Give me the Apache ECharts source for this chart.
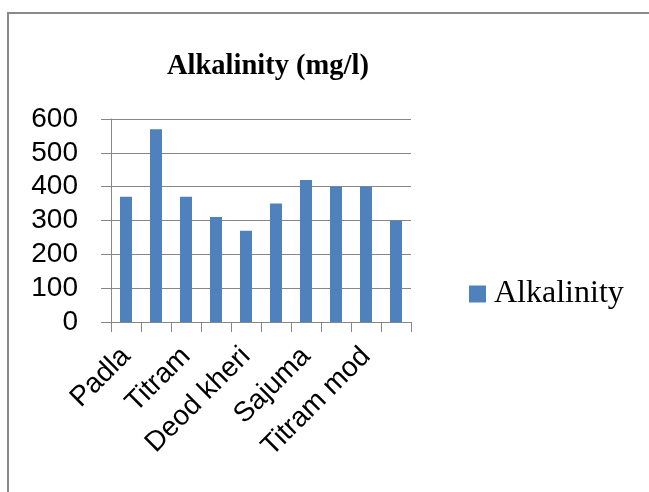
<!DOCTYPE html>
<html>
<head>
<meta charset="utf-8">
<script src="https://cdn.jsdelivr.net/npm/echarts@6/dist/echarts.min.js"></script>
<style>
html,body{margin:0;padding:0;background:#fff;}
#chart{width:649px;height:492px;}
</style>
</head>
<body>
<div id="chart"></div>
<script>
var categories = ['Padla', '', 'Titram', '', 'Deod kheri', '', 'Sajuma', '', 'Titram mod', ''];
var alkalinity = [370, 570, 370, 310, 270, 350, 420, 400, 400, 300];
var yTicks = [0, 100, 200, 300, 400, 500, 600];
var seriesName = 'Alkalinity';

var chart = echarts.init(document.getElementById('chart'), null, {renderer: 'canvas'});
var sans = '"Liberation Sans", Arial, sans-serif';
var serif = '"Liberation Serif", "Times New Roman", serif';
chart.setOption({
  animation: false,
  backgroundColor: '#ffffff',
  graphic: [{
    type: 'rect',
    shape: {x: 8, y: 13, width: 700, height: 520},
    style: {fill: 'none', stroke: '#898989', lineWidth: 2},
    silent: true,
    z: -10
  }],
  title: {
    text: 'Alkalinity (mg/l)',
    left: 162,
    top: 47,
    textStyle: {fontFamily: serif, fontWeight: 'bold', fontSize: 28.5, color: '#000'}
  },
  legend: {
    data: [seriesName],
    left: 464,
    top: 273,
    icon: 'rect',
    itemWidth: 17,
    itemHeight: 17,
    itemGap: 6,
    textStyle: {fontFamily: serif, fontSize: 32, color: '#000', padding: [0, 0, 0, 3]}
  },
  grid: {left: 111, right: 238, top: 119, bottom: 170, containLabel: false},
  xAxis: {
    type: 'category',
    data: categories,
    axisLine: {lineStyle: {color: '#868686', width: 1}},
    axisTick: {show: true, length: 10, lineStyle: {color: '#868686'}},
    axisLabel: {interval: 0, rotate: 45, margin: 30, fontFamily: sans, fontSize: 28, color: '#000'},
    splitLine: {show: false}
  },
  yAxis: {
    type: 'value',
    min: yTicks[0],
    max: yTicks[yTicks.length - 1],
    interval: 100,
    axisLine: {show: true, lineStyle: {color: '#868686', width: 1}},
    axisTick: {show: true, length: 10, lineStyle: {color: '#868686'}},
    axisLabel: {margin: 33, fontFamily: sans, fontSize: 28, color: '#000'},
    splitLine: {show: true, lineStyle: {color: '#868686', width: 1}}
  },
  series: [{
    name: seriesName,
    type: 'bar',
    data: alkalinity,
    barWidth: 12,
    itemStyle: {color: '#4F81BD'}
  }]
});
</script>
</body>
</html>
